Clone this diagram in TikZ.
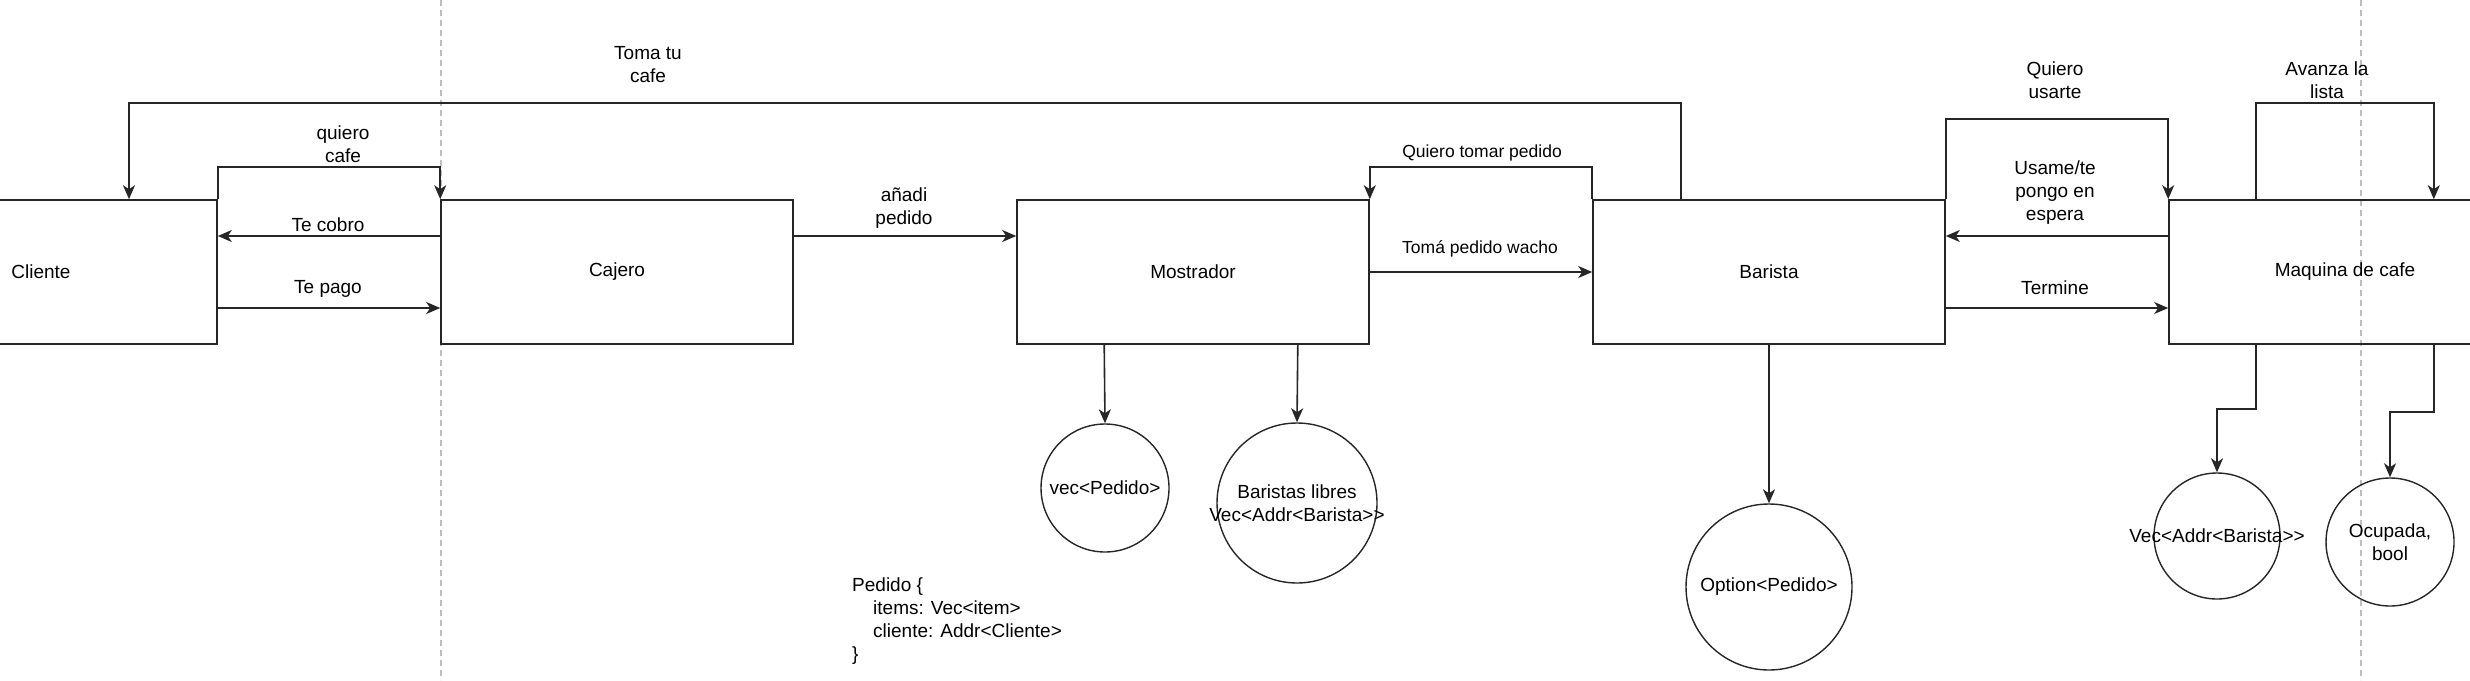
\documentclass[tikz,border=0pt]{standalone}
\usepackage{fontspec}
\setmainfont{Liberation Sans}
\usetikzlibrary{arrows.meta}

\begin{document}
\begin{tikzpicture}[x=1pt,y=-1pt,
  box/.style={draw=black!85,line width=1.6pt,minimum width=352pt,minimum height=144pt,inner sep=0pt,font=\fontsize{19}{23}\selectfont},
  store/.style={draw=black!85,line width=1.4pt,circle,inner sep=0pt,align=center,font=\fontsize{19}{23}\selectfont},
  txt/.style={align=center,inner sep=0pt,font=\fontsize{19}{23}\selectfont},
  small/.style={align=center,inner sep=0pt,font=\fontsize{17.5}{21}\selectfont},
  msg/.style={draw=black!85,line width=1.6pt,-{Stealth[length=14pt,width=12pt,inset=4pt]}},
  lane/.style={draw=black!25,line width=1.5pt,dash pattern=on 6pt off 4pt}]
  \clip (0,0) rectangle (2470,680);

  \draw[lane] (441,0) -- (441,680);
  \draw[lane] (2361,0) -- (2361,680);

  \node[box] (cliente) at (41,272) {Cliente};
  \node[box] (cajero) at (617,272) {Cajero};
  \node[box] (mostrador) at (1193,272) {Mostrador};
  \node[box] (barista) at (1769,272) {Barista};
  \node[box] (maquina) at (2345,272) {Maquina de cafe};

  \node[store,minimum size=128pt] (vecped) at (1105,488) {vec<Pedido>};
  \node[store,minimum size=160pt] (libres) at (1297,503) {Baristas libres\\\makebox[0pt]{Vec<Addr<Barista>{}>}};
  \node[store,minimum size=166pt] (option) at (1769,587) {Option<Pedido>};
  \node[store,minimum size=126pt] (vecbar) at (2217,536) {\makebox[0pt]{Vec<Addr<Barista>{}>}};
  \node[store,minimum size=128pt] (ocupada) at (2390,542) {Ocupada,\\bool};

  \node[txt,align=left,anchor=base west] (pedido) at (852,660) {Pedido \{\\
    \hspace*{21pt}items: Vec<item>\\
    \hspace*{21pt}cliente: Addr<Cliente>\\
    \}};

  \draw[msg] ([xshift=-88pt]barista.north) -- ++(0pt,96pt) -| ([xshift=88pt]cliente.north);
  \draw[msg] (cliente.north east) -- ++(0pt,32pt) -| (cajero.north west);
  \draw[msg] ([yshift=36pt]cajero.west) -- ([yshift=36pt]cliente.east);
  \draw[msg] ([yshift=-36pt]cliente.east) -- ([yshift=-36pt]cajero.west);
  \draw[msg] ([yshift=36pt]cajero.east) -- ([yshift=36pt]mostrador.west);
  \draw[msg] (barista.north west) -- ++(0pt,32pt) -| (mostrador.north east);
  \draw[msg] (mostrador.east) -- (barista.west);
  \draw[msg] (barista.north east) -- ++(0pt,80pt) -| (maquina.north west);
  \draw[msg] ([yshift=36pt]maquina.west) -- ([yshift=36pt]barista.east);
  \draw[msg] ([yshift=-36pt]barista.east) -- ([yshift=-36pt]maquina.west);
  \draw[msg] ([xshift=88pt]maquina.north west) -- ++(0pt,96pt) -| ([xshift=-88pt]maquina.north east);

  \draw[msg] ([xshift=88pt]mostrador.south west) -- (vecped.north);
  \draw[msg] ([xshift=-72pt]mostrador.south east) -- (libres.north);
  \draw[msg] (barista.south) -- (option.north);
  \draw[msg] ([xshift=88pt]maquina.south west) -- ++(0pt,-64pt) -| (vecbar.north);
  \draw[msg] ([xshift=-88pt]maquina.south east) -- ++(0pt,-67pt) -| (ocupada.north);

  \node[txt] (tomacafe) at (648,65) {Toma tu\\cafe};
  \node[txt] (quierocafe) at (343,144) {quiero\\cafe};
  \node[txt] (tecobro) at (328,225) {Te cobro};
  \node[txt] (tepago) at (328,289) {Te pago};
  \node[txt] (anadi) at (904,208) {añadi\\pedido};
  \node[small] (quierotomar) at (1482,153) {Quiero tomar pedido};
  \node[small] (tomapedido) at (1480,249) {Tomá pedido wacho};
  \node[txt] (usarte) at (2055,80) {Quiero\\usarte};
  \node[txt] (usame) at (2055,193) {Usame/te\\pongo en\\espera};
  \node[txt] (termine) at (2055,288) {Termine};
  \node[txt] (avanza) at (2327,80) {Avanza la\\lista};
\end{tikzpicture}
\end{document}
